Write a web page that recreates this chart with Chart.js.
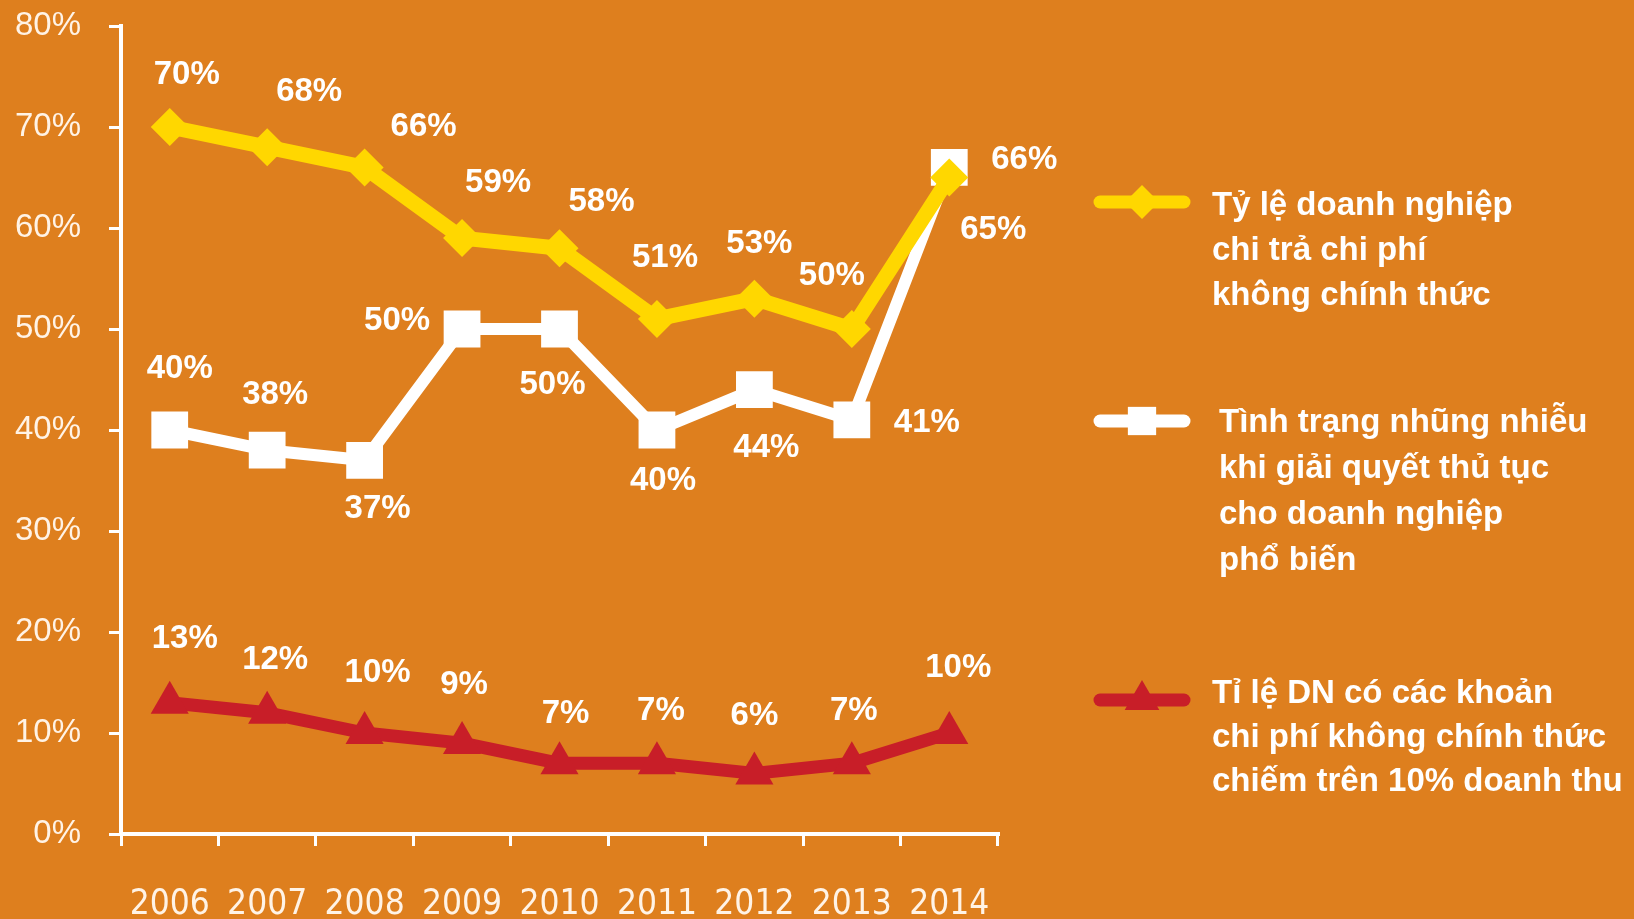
<!DOCTYPE html>
<html>
<head>
<meta charset="utf-8">
<script src="https://cdn.jsdelivr.net/npm/chart.js@4.4.0/dist/chart.umd.min.js"></script>
<style>
html, body { margin: 0; padding: 0; background: #DE7F1E; }
#wrap { position: relative; width: 1634px; height: 919px; }
.leg-text { position: absolute; font: bold 33px "Liberation Sans", Arial, sans-serif; color: #fff; white-space: pre-line; }
.leg-swatch { position: absolute; }
</style>
</head>
<body>
<div id="wrap">
  <canvas id="chart"></canvas>
</div>
<script>
var years = ['2006', '2007', '2008', '2009', '2010', '2011', '2012', '2013', '2014'];
var informalFees = [70, 68, 66, 59, 58, 51, 53, 50, 65];
var harassment = [40, 38, 37, 50, 50, 40, 44, 41, 66];
var overTenPct = [13, 12, 10, 9, 7, 7, 6, 7, 10];
var seriesNames = [
    'Tỷ lệ doanh nghiệp\nchi trả chi phí\nkhông chính thức',
    'Tình trạng nhũng nhiễu\nkhi giải quyết thủ tục\ncho doanh nghiệp\nphổ biến',
    'Tỉ lệ DN có các khoản\nchi phí không chính thức\nchiếm trên 10% doanh thu'
];

// where each value label sits relative to its point
var labelOffsets = [
    [[17, -52], [42, -55], [59, -40], [36, -55], [42, -46], [8, -61], [5, -55], [-20, -53], [44, 52]],
    [[10, -61], [8, -55], [13, 49], [-65, -8], [-7, 56], [6, 51], [12, 58], [75, 3], [75, -7]],
    [[15, -64], [8, -53], [13, -60], [2, -58], [6, -49], [4, -52], [0, -57], [2, -52], [9, -65]]
];

// legend block placement: swatch centre y, text left, text top, line height
var legendPlace = [
    { y: 202, x: 1212, top: 181, lh: 45 },
    { y: 421, x: 1219, top: 398, lh: 46 },
    { y: 700, x: 1212, top: 670, lh: 44 }
];

var colors = {
    yellow: '#FFD700',
    white: '#FFFFFF',
    red: '#C81E28',
    tick: '#FFF3E6'
};

var wrap = document.getElementById('wrap');

var valueLabels = {
    id: 'valueLabels',
    afterDatasetsDraw: function(chart) {
        var ctx = chart.ctx;
        ctx.save();
        ctx.font = 'bold 33px "Liberation Sans", Arial, sans-serif';
        ctx.fillStyle = '#fff';
        ctx.textAlign = 'center';
        ctx.textBaseline = 'middle';
        chart.data.datasets.forEach(function(ds, i) {
            chart.getDatasetMeta(i).data.forEach(function(pt, j) {
                var off = labelOffsets[i][j];
                ctx.fillText(ds.data[j] + '%', pt.x + off[0], pt.y + off[1]);
            });
        });
        ctx.restore();
    }
};

var ctx = document.getElementById('chart').getContext('2d');
var chart = new Chart(ctx, {
    type: 'line',
    data: {
        labels: years,
        datasets: [
            {
                label: seriesNames[0],
                data: informalFees,
                borderColor: colors.yellow,
                backgroundColor: colors.yellow,
                borderWidth: 15,
                pointStyle: 'rectRot',
                pointRadius: 19,
                pointBorderWidth: 0,
                pointBackgroundColor: colors.yellow
            },
            {
                label: seriesNames[1],
                data: harassment,
                borderColor: colors.white,
                backgroundColor: colors.white,
                borderWidth: 12,
                pointStyle: 'rect',
                pointRadius: 26,
                pointBorderWidth: 0,
                pointBackgroundColor: colors.white
            },
            {
                label: seriesNames[2],
                data: overTenPct,
                borderColor: colors.red,
                backgroundColor: colors.red,
                borderWidth: 13,
                pointStyle: 'triangle',
                pointRadius: 22,
                pointBorderWidth: 0,
                pointBackgroundColor: colors.red
            }
        ]
    },
    options: {
        responsive: true,
        maintainAspectRatio: false,
        animation: false,
        layout: {
            padding: { top: 0, right: 636, left: 0, bottom: 0 }
        },
        elements: {
            line: { tension: 0, borderJoinStyle: 'round', borderCapStyle: 'round' }
        },
        plugins: {
            legend: { display: false },
            tooltip: { enabled: false }
        },
        scales: {
            x: {
                offset: true,
                grid: {
                    offset: true,
                    drawOnChartArea: false,
                    color: '#fff',
                    lineWidth: 3,
                    tickLength: 12
                },
                border: { color: '#fff', width: 4 },
                ticks: {
                    color: colors.tick,
                    padding: 38,
                    maxRotation: 0,
                    minRotation: 0,
                    autoSkip: false,
                    font: { family: '"Liberation Sans Narrow", "DejaVu Sans Condensed", sans-serif', size: 35 }
                },
                afterFit: function(scale) { scale.height = 85; }
            },
            y: {
                min: 0,
                max: 80,
                ticks: {
                    stepSize: 10,
                    color: colors.tick,
                    padding: 28,
                    font: { family: '"Liberation Sans", Arial, sans-serif', size: 33 },
                    callback: function(v) { return v + '%'; }
                },
                grid: {
                    drawOnChartArea: false,
                    color: '#fff',
                    lineWidth: 3,
                    tickLength: 12
                },
                border: { color: '#fff', width: 4 },
                afterFit: function(scale) {
                    scale.width = 121;
                    scale.paddingTop = 20;
                    scale.paddingBottom = 20;
                }
            }
        }
    },
    plugins: [valueLabels]
});

// legend built from the datasets
chart.data.datasets.forEach(function(ds, i) {
    var p = legendPlace[i];
    var sw = document.createElement('canvas');
    sw.width = 110;
    sw.height = 50;
    sw.className = 'leg-swatch';
    sw.style.left = '1087px';
    sw.style.top = (p.y - 25) + 'px';
    var c = sw.getContext('2d');
    c.strokeStyle = ds.borderColor;
    c.lineWidth = 13;
    c.lineCap = 'round';
    c.beginPath();
    c.moveTo(13, 25);
    c.lineTo(97, 25);
    c.stroke();
    c.fillStyle = ds.borderColor;
    Chart.helpers.drawPoint(c, {
        pointStyle: ds.pointStyle,
        radius: ds.pointStyle === 'rect' ? 20 : (ds.pointStyle === 'triangle' ? 20 : 17),
        borderWidth: 0
    }, 55, 25);
    wrap.appendChild(sw);

    var t = document.createElement('div');
    t.className = 'leg-text';
    t.style.left = p.x + 'px';
    t.style.top = p.top + 'px';
    t.style.lineHeight = p.lh + 'px';
    t.textContent = ds.label;
    wrap.appendChild(t);
});
</script>
</body>
</html>
